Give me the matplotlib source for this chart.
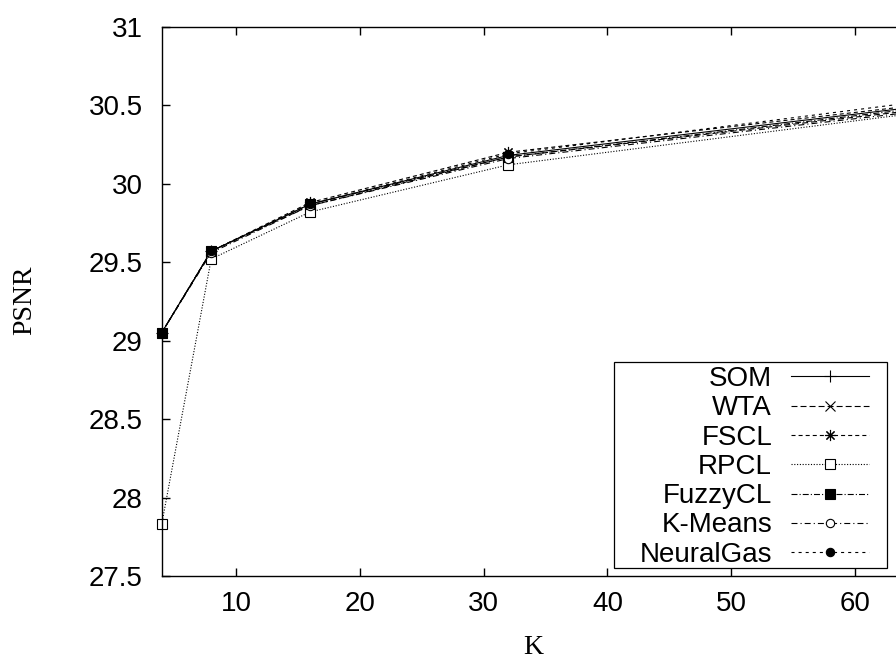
import matplotlib
matplotlib.use("Agg")
import matplotlib.pyplot as plt
from matplotlib.lines import Line2D
from matplotlib.patches import Rectangle

plt.rcParams['lines.scale_dashes'] = False

K = [4, 8, 16, 32, 64]

series_names = ["SOM", "WTA", "FSCL", "RPCL", "FuzzyCL", "K-Means", "NeuralGas"]
som = [29.05, 29.57, 29.87, 30.18, 30.48]
wta = [29.05, 29.57, 29.86, 30.17, 30.46]
fscl = [29.05, 29.57, 29.88, 30.20, 30.49]
rpcl = [27.83, 29.52, 29.82, 30.12, 30.44]
fuzzycl = [29.05, 29.57, 29.87, 30.17, 30.47]
kmeans = [29.05, 29.56, 29.86, 30.16, 30.45]
neuralgas = [29.05, 29.57, 29.87, 30.19, 30.51]
series_values = [som, wta, fscl, rpcl, fuzzycl, kmeans, neuralgas]

x_ticks = [10, 20, 30, 40, 50, 60]
y_ticks = [27.5, 28, 28.5, 29, 29.5, 30, 30.5, 31]
y_tick_labels = ["27.5", "28", "28.5", "29", "29.5", "30", "30.5", "31"]

styles = [
    dict(ls="-", marker="+", mfc="none", ms=8),
    dict(ls=(0, (4.3, 2.2)), marker="x", mfc="none", ms=7),
    dict(ls=(0, (2.9, 2.2)), marker=(8, 2, 0), mfc="none", ms=8),
    dict(ls=(0, (0.8, 1.2)), marker="s", mfc="white", ms=6.5),
    dict(ls=(0, (4.3, 1.5, 0.8, 1.5)), marker="s", mfc="black", ms=6.5),
    dict(ls=(0, (4.3, 2.2, 0.8, 2.2)), marker="o", mfc="white", ms=6),
    dict(ls=(0, (2.2, 2.9)), marker="o", mfc="black", ms=6),
]

W, H = 896, 660
fig = plt.figure(figsize=(W / 100, H / 100), dpi=100)

def fx(x):
    return x / W

def fy(y):
    return 1 - y / H

ax_left, ax_right, ax_top, ax_bottom = 161.7, 904.5, 26.7, 576.0
ax = fig.add_axes([fx(ax_left), fy(ax_bottom), fx(ax_right - ax_left),
                   (ax_bottom - ax_top) / H])

sans = ["Liberation Sans", "DejaVu Sans"]
serif = ["Liberation Serif", "DejaVu Serif"]

for vals, st in zip(series_values, styles):
    ax.plot(K, vals, color="black", lw=0.8, ls=st["ls"], marker=st["marker"],
            ms=st["ms"], mfc=st["mfc"], mec="black", mew=0.8, clip_on=False)

ax.set_xlim(4, 64)
ax.set_ylim(27.5, 31)
ax.set_xticks(x_ticks)
ax.set_xticklabels([str(t) for t in x_ticks], fontsize=20, family=sans)
ax.set_yticks(y_ticks)
ax.set_yticklabels(y_tick_labels, fontsize=20, family=sans)
ax.tick_params(direction="in", length=6, width=1.0, top=True, right=True)
ax.tick_params(axis="y", pad=13.5)
ax.tick_params(axis="x", pad=11)
for sp in ax.spines.values():
    sp.set_linewidth(1.0)

fig.text(fx(25), fy(300), "PSNR", rotation=90, ha="center", va="center",
         fontsize=20, family=serif)
fig.text(fx(533), fy(659.5), "K", ha="center", va="bottom",
         fontsize=20, family=serif)

# key box, labels right-aligned with line samples to their right
fig.add_artist(Rectangle((fx(614), fy(568)), fx(887 - 614), (568 - 362) / H,
                         transform=fig.transFigure, fill=False,
                         edgecolor="black", lw=0.9))
base0, pitch = 386.0, 29.28
for i, (name, st) in enumerate(zip(series_names, styles)):
    yb = base0 + i * pitch
    fig.text(fx(772), fy(yb), name, ha="right", va="baseline",
             fontsize=20, family=sans)
    yl = fy(yb - 9.6)
    fig.add_artist(Line2D([fx(791), fx(869)], [yl, yl], transform=fig.transFigure,
                          color="black", lw=0.8, ls=st["ls"]))
    fig.add_artist(Line2D([fx(830)], [yl], transform=fig.transFigure,
                          color="black", ls="none", marker=st["marker"],
                          ms=st["ms"], mfc=st["mfc"], mec="black", mew=0.8))

fig.savefig("out.png", dpi=100)
